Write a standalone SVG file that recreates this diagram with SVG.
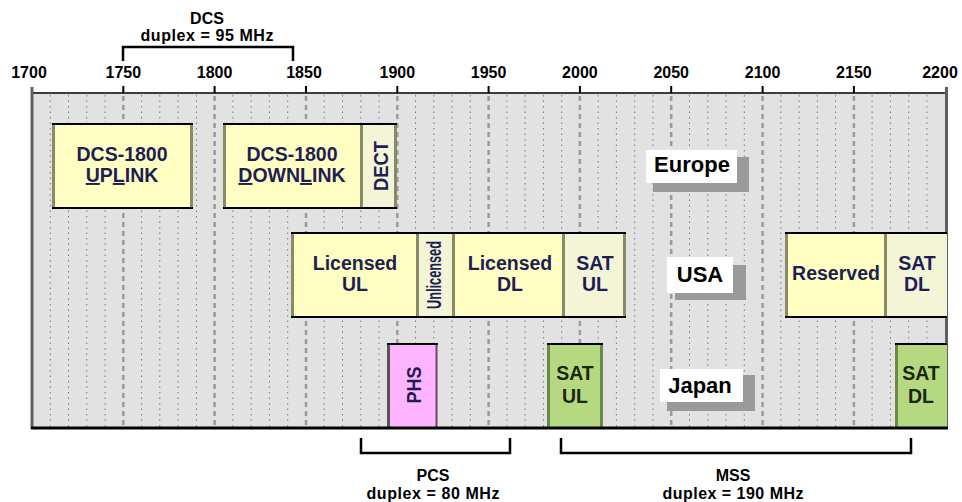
<svg xmlns="http://www.w3.org/2000/svg" width="962" height="502" viewBox="0 0 962 502">
<style>
.t{font-family:"Liberation Sans",Arial,sans-serif;font-weight:bold;text-anchor:middle}
.ax{font-size:16px;fill:#000}
.br{font-size:16px;fill:#000}
.bx{font-size:19.5px;fill:#1e1e55}
.jp{font-size:19.5px;fill:#1a260e}
.rg{font-size:22px;fill:#000}
.yel{fill:#ffffc4}
.crm{fill:#f4f4d6}
.edge{stroke:#000;stroke-width:2;fill:none}
.side{stroke:#8a8a66;stroke-width:3;fill:none}
.minor{stroke:#7a7a7a;stroke-width:1;stroke-dasharray:1.5 4;fill:none}
.major{stroke:#9a9a9a;stroke-width:2.5;stroke-dasharray:5 4;fill:none}
.shadow{fill:#9a9a9a}
.white{fill:#fff}
.bracket{stroke:#000;stroke-width:2.5;fill:none}
</style>
<rect x="0" y="0" width="962" height="502" fill="#fff"/>
<g id="chart-bg">
<rect x="32" y="93" width="914" height="335" fill="#e2e2e2"/>
<path class="minor" d="M50.3 95V427M68.5 95V427M86.8 95V427M105.1 95V427M141.6 95V427M159.8 95V427M178.1 95V427M196.4 95V427M232.9 95V427M251.2 95V427M269.4 95V427M287.7 95V427M324.2 95V427M342.5 95V427M360.8 95V427M379 95V427M415.5 95V427M433.8 95V427M452.1 95V427M470.3 95V427M506.9 95V427M525.1 95V427M543.4 95V427M561.7 95V427M598.2 95V427M616.4 95V427M634.7 95V427M653 95V427M689.5 95V427M707.8 95V427M726 95V427M744.3 95V427M780.8 95V427M799.1 95V427M817.3 95V427M835.6 95V427M872.1 95V427M890.4 95V427M908.7 95V427M926.9 95V427"/>
<path class="major" d="M123.3 96V427M214.6 96V427M306 96V427M397.3 96V427M488.6 96V427M579.9 96V427M671.2 96V427M762.6 96V427M853.9 96V427"/>
</g>
<g id="axis">
<line x1="32" y1="93" x2="946" y2="93" stroke="#000" stroke-width="1.5"/>
<path d="M123.3 86V93M214.6 86V93M306 86V93M397.3 86V93M488.6 86V93M579.9 86V93M671.2 86V93M762.6 86V93M853.9 86V93" stroke="#000" stroke-width="2"/>
<line x1="32" y1="87" x2="32" y2="429" stroke="#606060" stroke-width="3"/>
<line x1="946.5" y1="87" x2="946.5" y2="429" stroke="#606060" stroke-width="3"/>
<text class="t ax" x="29" y="78">1700</text>
<text class="t ax" x="123.3" y="78">1750</text>
<text class="t ax" x="214.6" y="78">1800</text>
<text class="t ax" x="304" y="78">1850</text>
<text class="t ax" x="397.3" y="78">1900</text>
<text class="t ax" x="488.6" y="78">1950</text>
<text class="t ax" x="579.9" y="78">2000</text>
<text class="t ax" x="671.2" y="78">2050</text>
<text class="t ax" x="762.6" y="78">2100</text>
<text class="t ax" x="853.9" y="78">2150</text>
<text class="t ax" x="940" y="78">2200</text>
</g>
<g id="europe-dcs-ul">
<rect class="yel" x="52" y="123" width="141" height="86"/>
<path class="side" d="M53.5 123V209M191.5 123V209"/>
<path class="edge" d="M52 124H193M52 208H193"/>
<text class="t bx" x="122" y="161">DCS-1800</text>
<text class="t bx" x="122" y="182"><tspan text-decoration="underline">U</tspan>P<tspan text-decoration="underline">L</tspan>INK</text>
</g>
<g id="europe-dcs-dl">
<rect class="yel" x="223" y="123" width="137" height="86"/>
<path class="side" d="M224.5 123V209"/>
<path class="edge" d="M223 124H360M223 208H360"/>
<text class="t bx" x="292" y="161">DCS-1800</text>
<text class="t bx" x="292" y="182"><tspan text-decoration="underline">D</tspan>OWN<tspan text-decoration="underline">L</tspan>INK</text>
</g>
<g id="europe-dect">
<rect class="crm" x="360" y="123" width="37" height="86"/>
<path class="side" d="M361.5 123V209M395.5 123V209"/>
<path class="edge" d="M360 124H397M360 208H397"/>
<text class="t bx" transform="translate(388,166) rotate(-90)" x="0" y="0" font-size="22" textLength="50" lengthAdjust="spacingAndGlyphs">DECT</text>
</g>
<g id="label-europe">
<rect class="shadow" x="653" y="157" width="96" height="35"/>
<rect class="white" x="646" y="150" width="91" height="33"/>
<text class="t rg" x="692" y="172">Europe</text>
</g>
<g id="usa-licensed-ul">
<rect class="yel" x="291" y="232" width="128" height="86"/>
<path class="side" d="M292.5 232V318M417.5 232V318"/>
<path class="edge" d="M291 233H419M291 317H419"/>
<text class="t bx" x="355" y="270">Licensed</text>
<text class="t bx" x="355" y="291">UL</text>
</g>
<g id="usa-unlicensed">
<rect class="crm" x="419" y="232" width="36" height="86"/>
<path class="side" d="M453.5 232V318"/>
<path class="edge" d="M419 233H455M419 317H455"/>
<text class="t bx" transform="translate(441,275) rotate(-90)" x="0" y="0" font-size="13" textLength="68" lengthAdjust="spacingAndGlyphs">Unlicensed</text>
</g>
<g id="usa-licensed-dl">
<rect class="yel" x="455" y="232" width="110" height="86"/>
<path class="side" d="M563.5 232V318"/>
<path class="edge" d="M455 233H565M455 317H565"/>
<text class="t bx" x="510" y="270">Licensed</text>
<text class="t bx" x="510" y="291">DL</text>
</g>
<g id="usa-sat-ul">
<rect class="crm" x="565" y="232" width="61" height="86"/>
<path class="side" d="M624.5 232V318" stroke="#6a6a55"/>
<path class="edge" d="M565 233H626M565 317H626"/>
<text class="t bx" x="595" y="270">SAT</text>
<text class="t bx" x="595" y="291">UL</text>
</g>
<g id="label-usa">
<rect class="shadow" x="675" y="265" width="71" height="35"/>
<rect class="white" x="667" y="257" width="66" height="36"/>
<text class="t rg" x="700" y="282">USA</text>
</g>
<g id="usa-reserved">
<rect class="yel" x="785" y="232" width="102" height="86"/>
<path class="side" d="M786.5 232V318M885.5 232V318"/>
<path class="edge" d="M785 233H887M785 317H887"/>
<text class="t bx" x="836" y="280">Reserved</text>
</g>
<g id="usa-sat-dl">
<rect class="crm" x="887" y="232" width="60" height="86"/>
<path class="edge" d="M887 233H947M887 317H947"/>
<text class="t bx" x="917" y="270">SAT</text>
<text class="t bx" x="917" y="291">DL</text>
</g>
<g id="japan-phs">
<rect x="387" y="343" width="51" height="85" fill="#ffb4ff"/>
<path d="M388.5 343V428" stroke="#555" stroke-width="3"/>
<path d="M436.5 343V428" stroke="#6a4a6a" stroke-width="2"/>
<path class="edge" d="M387 344H438"/>
<text class="t bx" transform="translate(421,385) rotate(-90)" x="0" y="0" font-size="22" textLength="37" lengthAdjust="spacingAndGlyphs">PHS</text>
</g>
<g id="japan-sat-ul">
<rect x="547" y="343" width="56" height="85" fill="#b4d980"/>
<path d="M548.5 343V428M601.5 343V428" stroke="#6a8a4a" stroke-width="3"/>
<path class="edge" d="M547 344H603"/>
<text class="t jp" x="575" y="380">SAT</text>
<text class="t jp" x="575" y="403">UL</text>
</g>
<g id="label-japan">
<rect class="shadow" x="667" y="375" width="88" height="36"/>
<rect class="white" x="660" y="369" width="83" height="33"/>
<text class="t rg" x="700" y="393">Japan</text>
</g>
<g id="japan-sat-dl">
<rect x="895" y="343" width="52" height="85" fill="#b4d980"/>
<path d="M896.5 343V428" stroke="#6a8a4a" stroke-width="3"/>
<path class="edge" d="M895 344H947"/>
<text class="t jp" x="921" y="380">SAT</text>
<text class="t jp" x="921" y="403">DL</text>
</g>
<line x1="31" y1="428" x2="948" y2="428" stroke="#000" stroke-width="3"/>
<g id="connectors">
<path class="bracket" d="M123 61V47H293V61"/>
<path class="bracket" d="M361 438V453H510V438"/>
<path class="bracket" d="M561 438V453H911V438"/>
</g>
<g id="label-dcs">
<text class="t br" x="207" y="24">DCS</text>
<text class="t br" x="207" y="41" textLength="133">duplex = 95 MHz</text>
</g>
<g id="label-pcs">
<text class="t br" x="433" y="481">PCS</text>
<text class="t br" x="433" y="499" textLength="133">duplex = 80 MHz</text>
</g>
<g id="label-mss">
<text class="t br" x="733" y="481">MSS</text>
<text class="t br" x="733" y="499" textLength="141">duplex = 190 MHz</text>
</g>
</svg>
